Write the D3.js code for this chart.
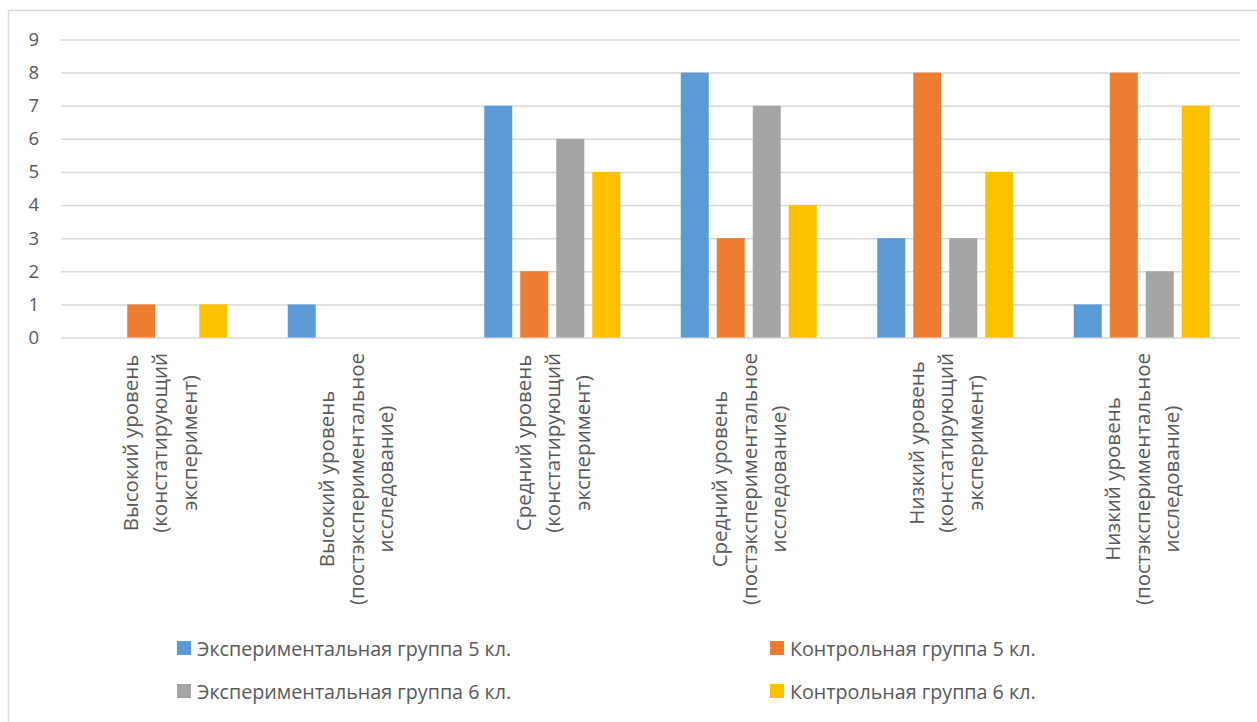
<!DOCTYPE html>
<html>
<head>
<meta charset="utf-8">
<script src="https://cdn.jsdelivr.net/npm/d3@7"></script>
<style>
  html, body { margin: 0; padding: 0; background: #fff; }
  svg { display: block; }
  text { font-family: "Open Sans", "Noto Sans", sans-serif; fill: #595959; }
</style>
</head>
<body>
<svg id="chart" width="1257" height="722"></svg>
<script>
// Category labels, one entry per line of the wrapped axis label
const categories = [
  ["Высокий уровень", "(констатирующий", "эксперимент)"],
  ["Высокий уровень", "(постэкспериментальное", "исследование)"],
  ["Средний уровень", "(констатирующий", "эксперимент)"],
  ["Средний уровень", "(постэкспериментальное", "исследование)"],
  ["Низкий уровень", "(констатирующий", "эксперимент)"],
  ["Низкий уровень", "(постэкспериментальное", "исследование)"]
];

const seriesNames = [
  "Экспериментальная группа 5 кл.",
  "Контрольная группа 5 кл.",
  "Экспериментальная группа 6 кл.",
  "Контрольная группа 6 кл."
];

const exp5 = [0, 1, 7, 8, 3, 1];
const ctl5 = [1, 0, 2, 3, 8, 8];
const exp6 = [0, 0, 6, 7, 3, 2];
const ctl6 = [1, 0, 5, 4, 5, 7];

const yTicks = [0, 1, 2, 3, 4, 5, 6, 7, 8, 9];

const colors = ["#5B9BD5", "#ED7D31", "#A5A5A5", "#FFC000"];

const seriesValues = [exp5, ctl5, exp6, ctl6];

const svg = d3.select("#chart");

// Outer chart frame
svg.append("rect")
  .attr("x", 8.5).attr("y", 10.5)
  .attr("width", 1400).attr("height", 900)
  .attr("fill", "none")
  .attr("stroke", "#d9d9d9")
  .attr("stroke-width", 1.5);

const plot = { left: 61, right: 1240, top: 39.5, bottom: 337.5 };

const x0 = d3.scaleBand()
  .domain(d3.range(categories.length))
  .range([plot.left, plot.right])
  .paddingInner(0).paddingOuter(0);

const x1 = d3.scaleBand()
  .domain(d3.range(seriesNames.length))
  .range([0, x0.bandwidth()])
  .paddingInner(0.2222)
  .paddingOuter(0.84);

const y = d3.scaleLinear()
  .domain([0, 9])
  .range([plot.bottom, plot.top]);

// Horizontal gridlines and value labels
const yAxis = d3.axisLeft(y)
  .tickValues(yTicks)
  .tickSize(-(plot.right - plot.left))
  .tickPadding(22)
  .tickFormat(d3.format("d"));

const ga = svg.append("g")
  .attr("transform", `translate(${plot.left},0)`)
  .call(yAxis);
ga.select(".domain").remove();
ga.selectAll(".tick line")
  .attr("stroke", "#d9d9d9")
  .attr("stroke-width", 1.5);
ga.selectAll(".tick text")
  .attr("fill", "#595959")
  .style("font-size", "18.5px");

// Bars
const groups = svg.append("g")
  .selectAll("g")
  .data(categories.map((c, i) => i))
  .join("g")
  .attr("transform", i => `translate(${x0(i)},0)`);

groups.selectAll("rect")
  .data(i => seriesValues.map((vals, s) => ({ s, v: vals[i] })).filter(d => d.v > 0))
  .join("rect")
  .attr("x", d => x1(d.s))
  .attr("width", x1.bandwidth())
  .attr("y", d => y(d.v))
  .attr("height", d => y(0) - y(d.v))
  .attr("fill", d => colors[d.s]);

// Rotated multi-line category labels
const lineGap = 29.5;
const labelTop = 353;
const labels = svg.append("g")
  .selectAll("g")
  .data(categories)
  .join("g")
  .attr("transform", (d, i) => `translate(${x0(i) + x0.bandwidth() / 2},${labelTop}) rotate(-90)`);

labels.each(function (lines) {
  const g = d3.select(this);
  const texts = g.selectAll("text")
    .data(lines)
    .join("text")
    .attr("text-anchor", "middle")
    .attr("dominant-baseline", "central")
    .attr("y", (d, k) => (k - (lines.length - 1) / 2) * lineGap)
    .style("font-size", "20.5px")
    .text(d => d);
  let maxLen = 0;
  texts.each(function () { maxLen = Math.max(maxLen, this.getComputedTextLength()); });
  texts.attr("x", -maxLen / 2);
});

// Legend in two columns, two rows
const legendCols = [177, 770];
const legendRows = [641, 684];
const legend = svg.append("g")
  .selectAll("g")
  .data(seriesNames)
  .join("g")
  .attr("transform", (d, i) => `translate(${legendCols[i % 2]},${legendRows[Math.floor(i / 2)]})`);

legend.append("rect")
  .attr("width", 14).attr("height", 14)
  .attr("fill", (d, i) => colors[i]);

legend.append("text")
  .attr("x", 20)
  .attr("y", 7)
  .attr("dominant-baseline", "central")
  .style("font-size", "19.7px")
  .text(d => d);
</script>
</body>
</html>
